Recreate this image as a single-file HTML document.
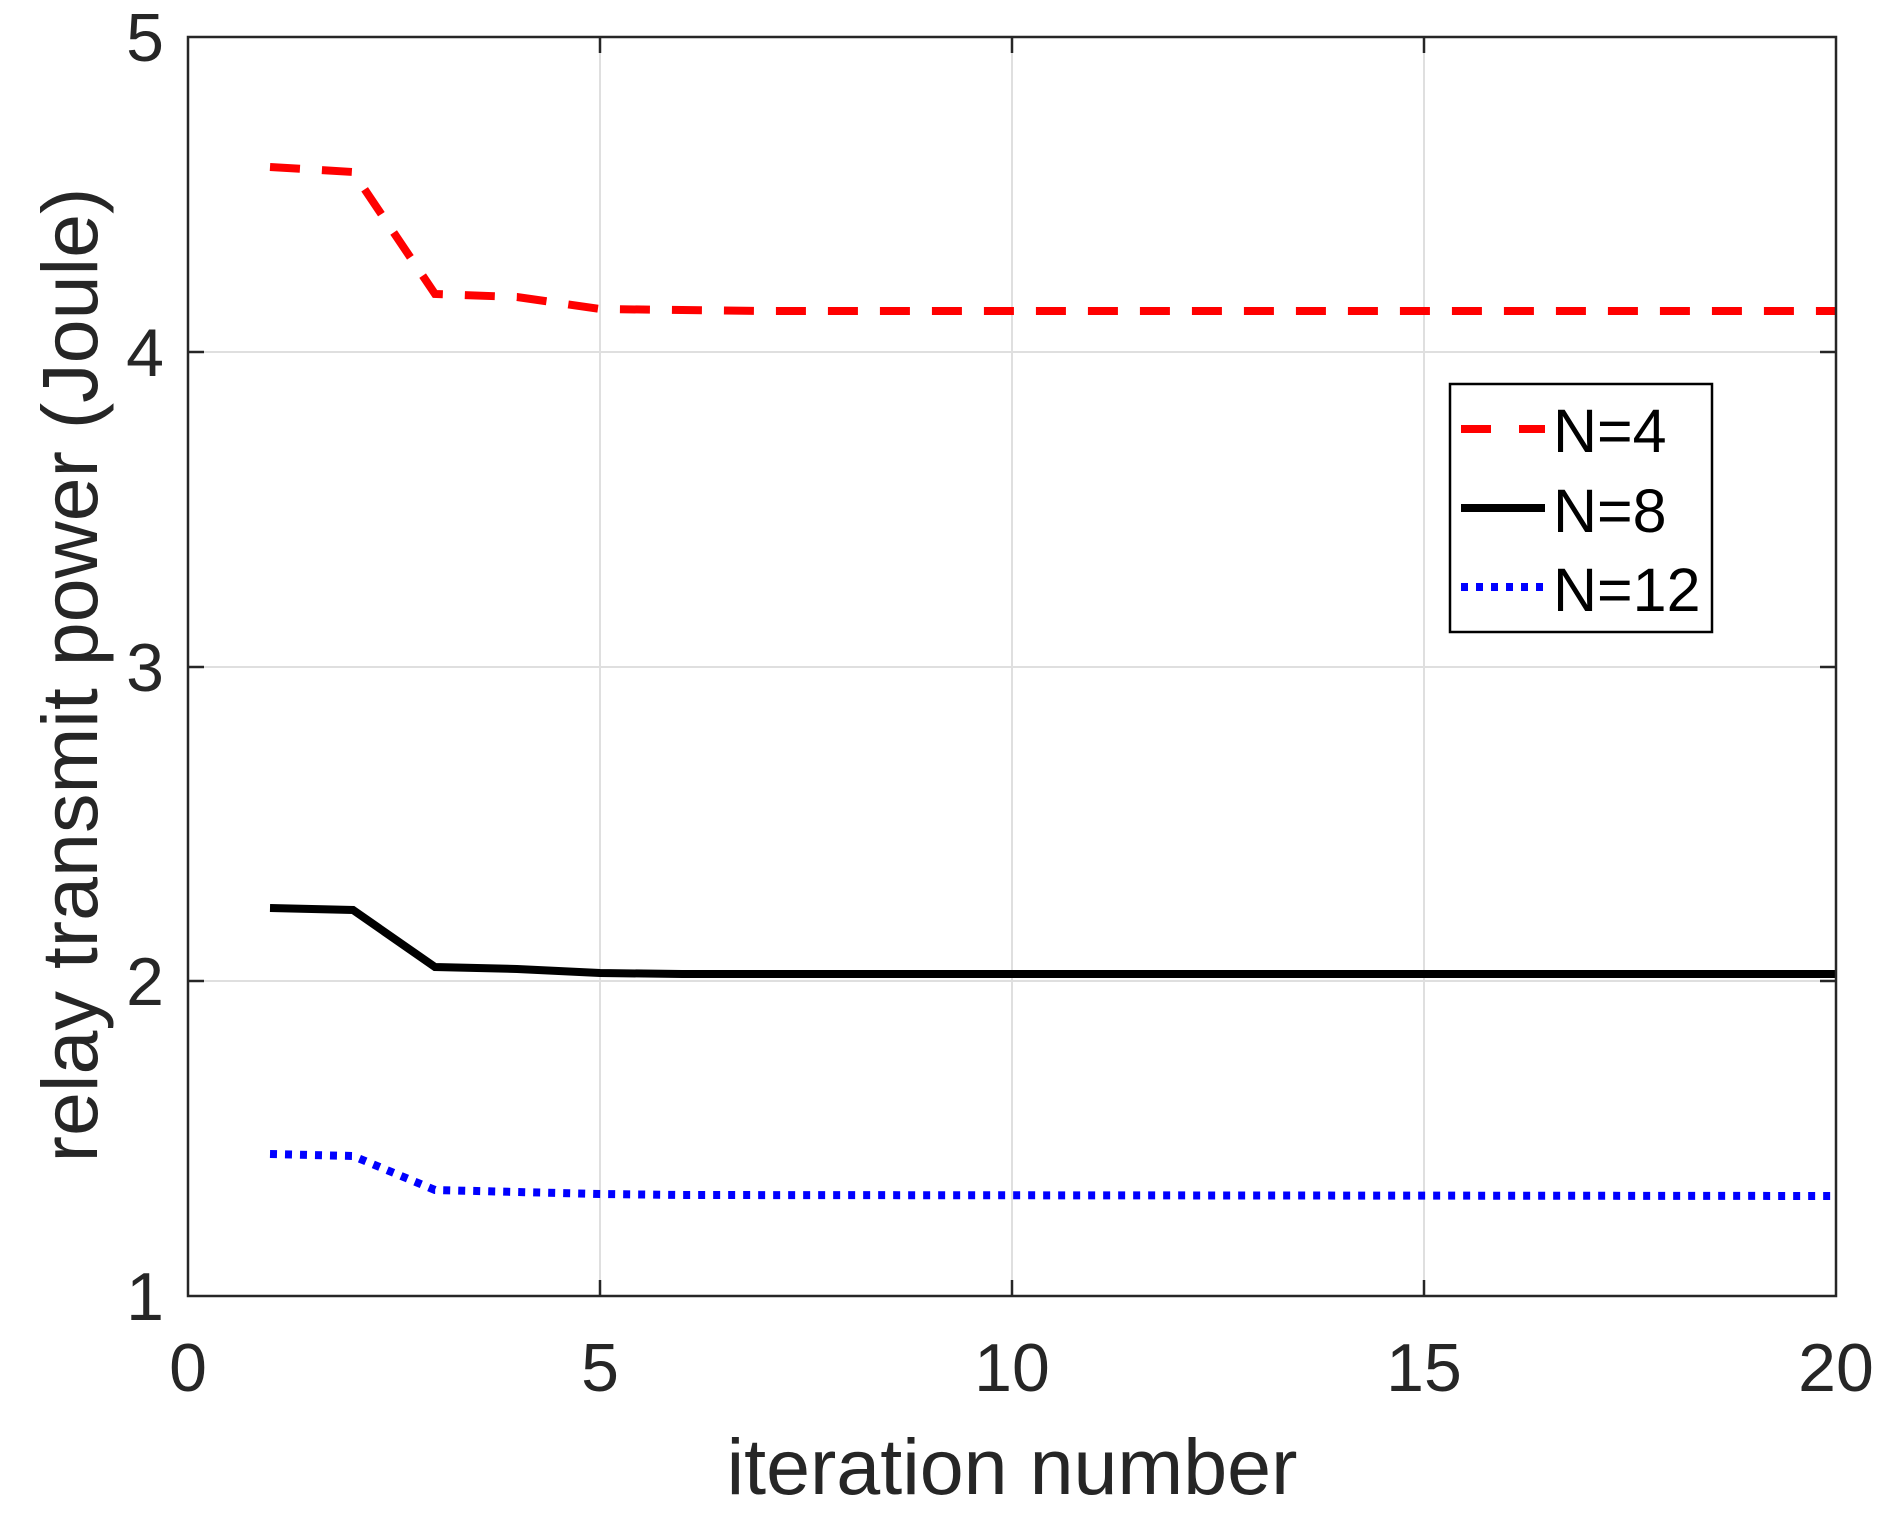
<!DOCTYPE html>
<html><head><style>body{margin:0;background:#fff}svg{display:block}</style></head><body>
<svg width="1896" height="1520" xmlns="http://www.w3.org/2000/svg" font-family="Liberation Sans, sans-serif">
<rect width="1896" height="1520" fill="#fff"/>
<g stroke="#dfdfdf" stroke-width="2">
<line x1="600" y1="37" x2="600" y2="1296"/><line x1="1012" y1="37" x2="1012" y2="1296"/><line x1="1424" y1="37" x2="1424" y2="1296"/>
<line x1="188" y1="352" x2="1836" y2="352"/><line x1="188" y1="667" x2="1836" y2="667"/><line x1="188" y1="981" x2="1836" y2="981"/>
</g>
<g stroke="#262626" stroke-width="2.5">
<line x1="600" y1="1296" x2="600" y2="1280"/><line x1="1012" y1="1296" x2="1012" y2="1280"/><line x1="1424" y1="1296" x2="1424" y2="1280"/>
<line x1="600" y1="37" x2="600" y2="53"/><line x1="1012" y1="37" x2="1012" y2="53"/><line x1="1424" y1="37" x2="1424" y2="53"/>
<line x1="188" y1="352" x2="204" y2="352"/><line x1="188" y1="667" x2="204" y2="667"/><line x1="188" y1="981" x2="204" y2="981"/>
<line x1="1836" y1="352" x2="1820" y2="352"/><line x1="1836" y1="667" x2="1820" y2="667"/><line x1="1836" y1="981" x2="1820" y2="981"/>
</g>
<g fill="none" stroke-width="8">
<polyline stroke="#f00" stroke-dasharray="30,22" points="270,167 353,172 435,294 517,297 600,309 682,310 764,311 1836,311"/>
<polyline stroke="#000" points="270,908 353,910 435,967 517,969 600,973 682,974 1836,974"/>
<polyline stroke="#00f" stroke-dasharray="7,8" points="270,1154 353,1156 394,1173 435,1190 517,1192 600,1194 682,1195 1836,1196"/>
</g>
<rect x="188" y="37" width="1648" height="1259" fill="none" stroke="#262626" stroke-width="2.5"/>
<g fill="#262626" font-size="68">
<g text-anchor="end"><text x="164" y="61">5</text><text x="164" y="376">4</text><text x="164" y="691">3</text><text x="164" y="1005">2</text><text x="164" y="1320">1</text></g>
<g text-anchor="middle"><text x="188" y="1391">0</text><text x="600" y="1391">5</text><text x="1012" y="1391">10</text><text x="1424" y="1391">15</text><text x="1836" y="1391">20</text></g>
<text x="1012" y="1494" text-anchor="middle" font-size="79">iteration number</text>
<text transform="translate(97,675) rotate(-90)" text-anchor="middle" font-size="79">relay transmit power (Joule)</text>
</g>
<rect x="1450" y="384" width="262" height="248" fill="#fff" stroke="#000" stroke-width="2.5"/>
<line x1="1461" y1="429" x2="1545" y2="429" stroke="#f00" stroke-width="8" stroke-dasharray="30,28"/>
<line x1="1461" y1="508" x2="1545" y2="508" stroke="#000" stroke-width="8"/>
<line x1="1461" y1="587" x2="1545" y2="587" stroke="#00f" stroke-width="8" stroke-dasharray="7,8"/>
<g font-size="61" fill="#000"><text x="1553" y="452">N=4</text><text x="1553" y="532">N=8</text><text x="1553" y="611">N=12</text></g>
</svg>
</body></html>
